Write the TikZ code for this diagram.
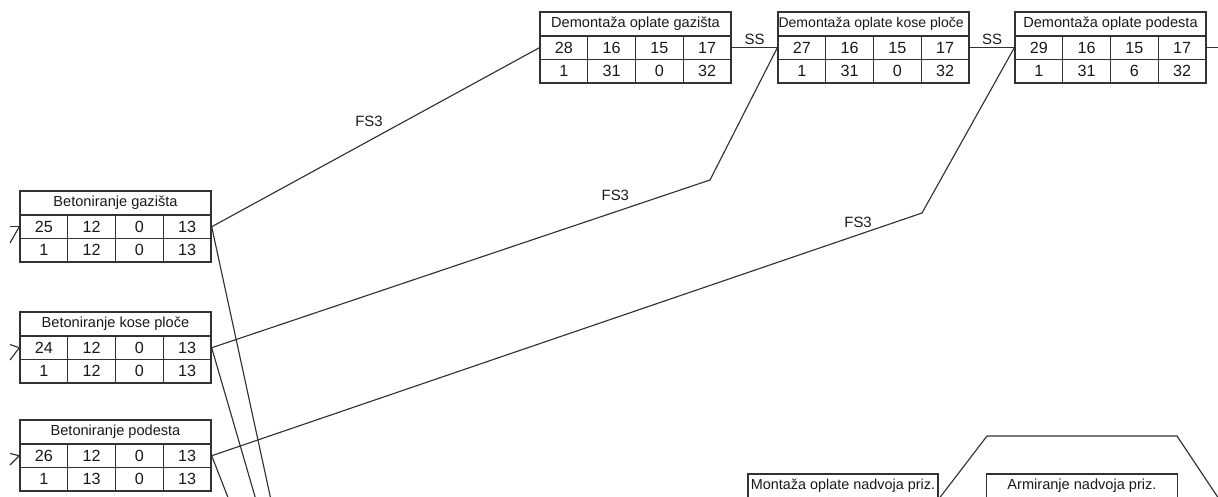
\documentclass[tikz,border=0pt]{standalone}
\usepackage{fontspec}
\setmainfont{Liberation Sans}
\usepackage{xcolor}
\definecolor{ink}{RGB}{25,25,25}
\definecolor{base02}{RGB}{50,50,50}
\usetikzlibrary{calc,positioning}

% activity box: name, top left corner, title, upper row, lower row
\newcommand{\actbox}[5]{%
    \begin{scope}[shift={#2}]
        \node[titlecell] (#1) at (95.5,12) {#3};
        \foreach \v [count=\i] in {#4}
            \node[numcell] (#1-t\i) at ({47.75*\i-23.875},35.75) {\v};
        \foreach \v [count=\i] in {#5}
            \node[numcell] (#1-b\i) at ({47.75*\i-23.875},59.25) {\v};
    \end{scope}}

\begin{document}
\begin{tikzpicture}[x=0.02cm, y=-0.02cm,
    titlecell/.style={draw=base02, line width=0.8pt, text=ink, inner sep=0pt,
                      minimum width=3.82cm, minimum height=0.48cm,
                      font=\fontsize{8.3}{10}\selectfont},
    numcell/.style={draw=base02, line width=0.8pt, text=ink, inner sep=0pt,
                    minimum width=0.955cm, minimum height=0.47cm,
                    font=\fontsize{9.2}{11}\selectfont},
    link/.style={draw=base02, line width=0.65pt},
    lbl/.style={text=ink, inner sep=1pt, font=\fontsize{8.5}{10}\selectfont}]
    \useasboundingbox (0,0) rectangle (1218,497);
    \clip (0,0) rectangle (1218,497);

    % casting
    \actbox{gaz}{(20,191)}{Betoniranje gazišta}{25,12,0,13}{1,12,0,13}
    \actbox{kp}{(20,312)}{Betoniranje kose ploče}{24,12,0,13}{1,12,0,13}
    \actbox{pod}{(20,420)}{Betoniranje podesta}{26,12,0,13}{1,13,0,13}

    % stripping
    \actbox{dgaz}{(540,12)}{Demontaža oplate gazišta}{28,16,15,17}{1,31,0,32}
    \actbox{dkp}{(778,12)}{\makebox[3.8cm][l]{\fontsize{8}{10}\selectfont Demontaža oplate kose ploče}}{27,16,15,17}{1,31,0,32}
    \actbox{dpod}{(1015,12)}{Demontaža oplate podesta}{29,16,15,17}{1,31,6,32}

    % lintels
    \node[titlecell, minimum width=3.8cm, font=\fontsize{8.2}{10}\selectfont] (mont) at (843,486) {Montaža oplate nadvoja priz.};
    \node[titlecell] (arm) at (1082,486) {Armiranje nadvoja priz.};

    \coordinate (gazin1) at (10,226.75);
    \coordinate (gazin2) at (10,243);
    \coordinate (kpin1) at (10,344.5);
    \coordinate (kpin2) at (10,360);
    \coordinate (podin1) at (10,453.5);
    \coordinate (podin2) at (10,465);
    \coordinate (gazout) at (271,500);
    \coordinate (kpout) at (256,500);
    \coordinate (podout) at (229,500);
    \coordinate (bendkp) at (710,180);
    \coordinate (bendpod) at (922,213);
    \coordinate (dpodout) at (1222,47.75);
    \coordinate (montout) at (938,500);
    \coordinate (nadL) at (987,436);
    \coordinate (nadR) at (1177,436);
    \coordinate (armout) at (1219,499);

    \draw[link] (gazin1) -- (gaz-t1.west);
    \draw[link] (gazin2) -- (gaz-t1.west);
    \draw[link] (kpin1) -- (kp-t1.west);
    \draw[link] (kpin2) -- (kp-t1.west);
    \draw[link] (podin1) -- (pod-t1.west);
    \draw[link] (podin2) -- (pod-t1.west);

    \draw[link] (gaz-t4.east) -- node[lbl, pos=.48, above=7pt] {FS3} (dgaz-t1.west);
    \draw[link] (kp-t4.east) -- node[lbl, pos=.81, above=5pt] {FS3} (bendkp) -- (dkp-t1.west);
    \draw[link] (pod-t4.east) -- node[lbl, pos=.91, above=3pt] {FS3} (bendpod) -- (dpod-t1.west);

    \draw[link] (dgaz-t4.east) -- node[lbl, above=0.5pt] {SS} (dkp-t1.west);
    \draw[link] (dkp-t4.east) -- node[lbl, above=0.5pt] {SS} (dpod-t1.west);
    \draw[link] (dpod-t4.east) -- (dpodout);

    \draw[link] (gaz-t4.east) -- (gazout);
    \draw[link] (kp-t4.east) -- (kpout);
    \draw[link] (pod-t4.east) -- (podout);

    \draw[link] (montout) -- (nadL) -- (nadR) -- (armout);
\end{tikzpicture}
\end{document}
